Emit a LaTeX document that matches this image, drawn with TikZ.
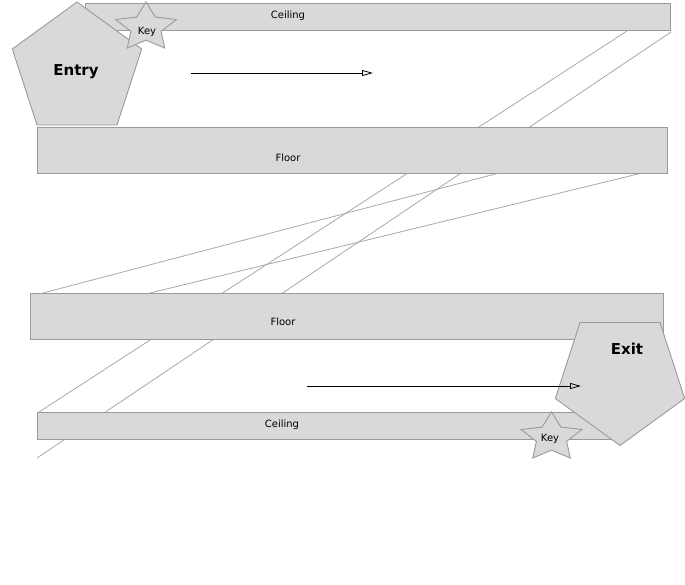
\documentclass[tikz,border=0pt]{standalone}
\usepackage{fontspec}
\setmainfont{DejaVu Sans}
\usetikzlibrary{shapes.geometric,arrows.meta}
\definecolor{slabfill}{HTML}{D9D9D9}
\definecolor{slabline}{HTML}{9A9A9A}
\definecolor{guide}{HTML}{A8A8A8}
\begin{document}
\begin{tikzpicture}[x=1pt,y=-1pt,
 slab/.style={draw=slabline, fill=slabfill, line width=0.9pt, anchor=north west, inner sep=0pt},
 guideline/.style={draw=guide, line width=0.8pt},
 penta/.style={regular polygon, regular polygon sides=5, draw=slabline, fill=slabfill, line width=0.9pt, minimum size=136pt, inner sep=0pt},
 keystar/.style={star, star points=5, star point ratio=2, draw=slabline, fill=slabfill, line width=0.9pt, minimum size=51pt, inner sep=0pt},
 slablabel/.style={font=\fontsize{10}{12}\selectfont},
 biglabel/.style={font=\bfseries\fontsize{15}{18}\selectfont},
 flow/.style={-{Triangle[open,length=11pt,width=6pt]}, line width=0.8pt, black}]
\useasboundingbox (0,0) rectangle (685,584);
% guide lines (behind the slabs)
\coordinate (a1) at (627,31);
\coordinate (a2) at (39,412);
\coordinate (b1) at (671,32);
\coordinate (b2) at (37,458);
\coordinate (c1) at (499,173);
\coordinate (c2) at (43,293);
\coordinate (d1) at (642,173);
\coordinate (d2) at (150,293);
\draw[guideline] (a1) -- (a2);
\draw[guideline] (b1) -- (b2);
\draw[guideline] (c1) -- (c2);
\draw[guideline] (d1) -- (d2);
% slabs
\node[slab, minimum width=585pt, minimum height=27pt] (ceil1) at (85,3) {};
\node[slab, minimum width=630pt, minimum height=46pt] (floor1) at (37,127) {};
\node[slab, minimum width=633pt, minimum height=46pt] (floor2) at (30,293) {};
\node[slab, minimum width=583pt, minimum height=27pt] (ceil2) at (37,412) {};
\node[slablabel] (ceil1t) at (288,16) {Ceiling};
\node[slablabel] (floor1t) at (288,158) {Floor};
\node[slablabel] (floor2t) at (283,322) {Floor};
\node[slablabel] (ceil2t) at (282,425) {Ceiling};
% pentagons
\node[penta] (entry) at (77,70) {};
\node[penta, shape border rotate=180] (exit) at (620,377.5) {};
\node[biglabel] (entryt) at (76,72) {Entry};
\node[biglabel] (exitt) at (627,349) {Exit};
% keys (stars slightly widened)
\begin{scope}[shift={(146,27.4)}, xscale=1.25]
  \node[keystar, transform shape] (key1) at (0,0) {};
\end{scope}
\begin{scope}[shift={(551.5,437.4)}, xscale=1.25]
  \node[keystar, transform shape] (key2) at (0,0) {};
\end{scope}
\node[slablabel] (key1t) at (147,32) {Key};
\node[slablabel] (key2t) at (550,438.5) {Key};
% arrows
\coordinate (f1s) at (191,73);
\coordinate (f1e) at (373,73);
\coordinate (f2s) at (307,386);
\coordinate (f2e) at (581,386);
\draw[flow] (f1s) -- (f1e);
\draw[flow] (f2s) -- (f2e);
\end{tikzpicture}
\end{document}
